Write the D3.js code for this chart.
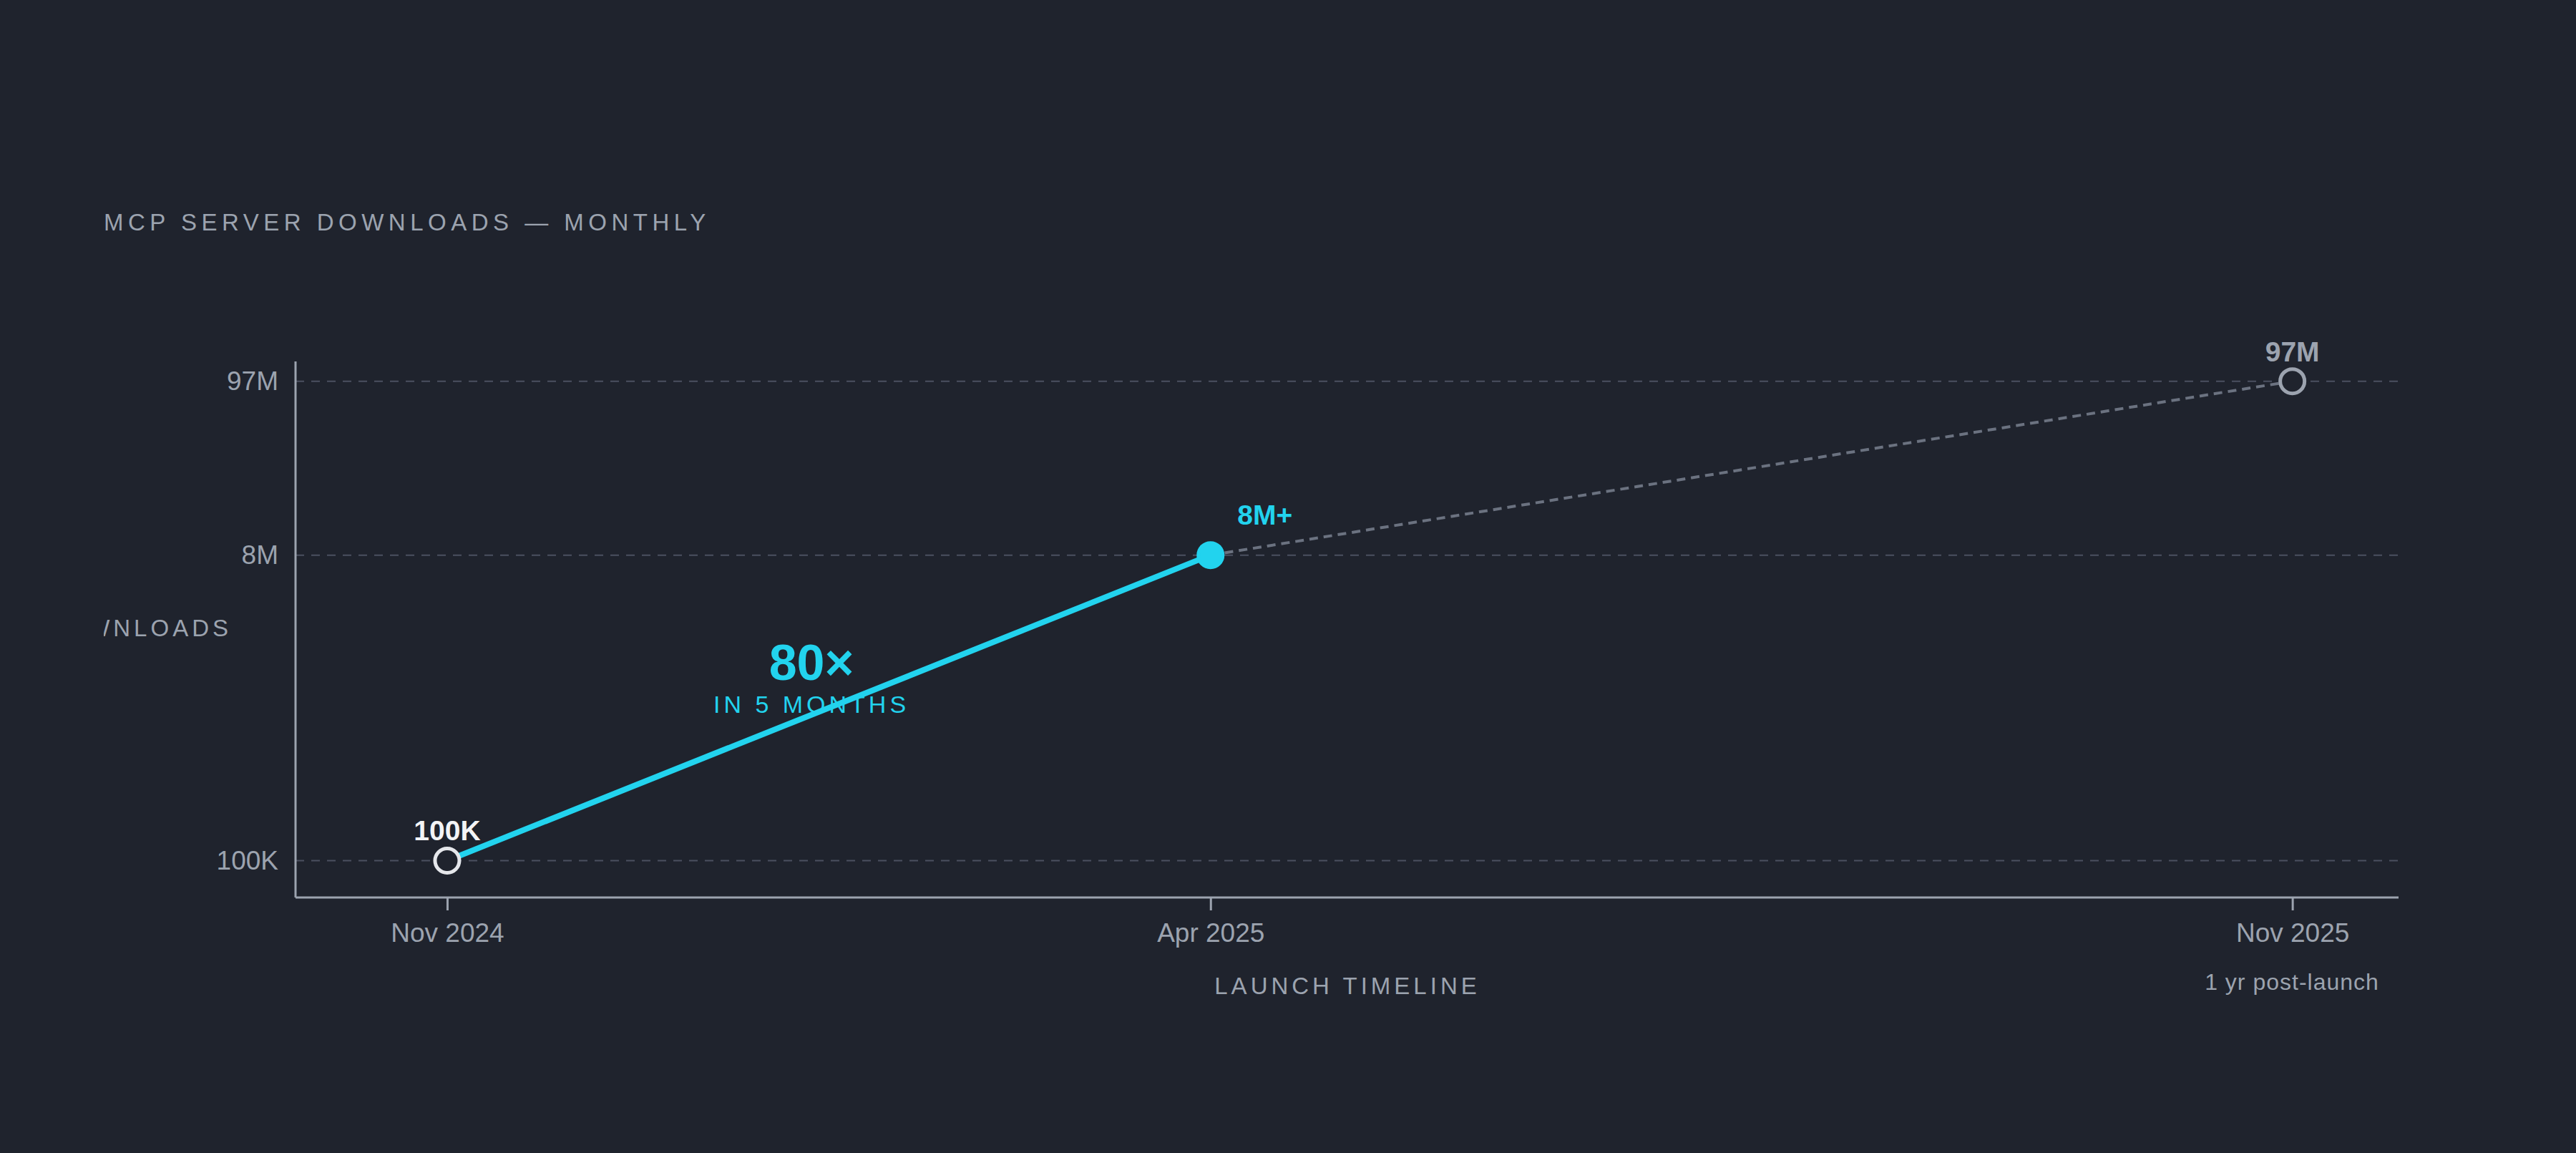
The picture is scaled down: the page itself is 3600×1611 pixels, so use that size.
<!DOCTYPE html>
<html><head><meta charset="utf-8">
<script src="https://cdn.jsdelivr.net/npm/d3@7"></script>
<style>html,body{margin:0;background:#1f232d;}svg{display:block;}</style>
</head><body>
<svg id="c" width="3600" height="1611"></svg>
<script>
const dates = ["2024-11-01","2025-04-01","2025-11-01"];
const values = [100000, 8000000, 97000000];
const pointLabels = ["100K","8M+","97M"];
const tickLabels = ["Nov 2024","Apr 2025","Nov 2025"];
const yTicks = [100000, 8000000, 97000000];
const yTickLabels = ["100K","8M","97M"];

const F = "'Liberation Sans Narrow','Liberation Sans',Arial,sans-serif";
const svg = d3.select("#c");
svg.append("rect").attr("width",3600).attr("height",1611).attr("fill","#1f232d");
const parse = d3.timeParse("%Y-%m-%d");
const D = dates.map(parse);
const x = d3.scaleTime().domain([parse("2024-10-02"), parse("2025-11-22")]).range([413,3352]);
const y = d3.scaleLog().domain([10**4.77, 10**8.11]).range([1254,505]);

svg.append("text").attr("x",145).attr("y",322).text("MCP SERVER DOWNLOADS — MONTHLY")
  .attr("fill","#9ca3af").attr("font-family",F).attr("font-size",33).attr("letter-spacing",6.5);

// grid
svg.selectAll(".g").data(yTicks).join("line").attr("x1",413).attr("x2",3352)
  .attr("y1",d=>y(d)).attr("y2",d=>y(d)).attr("stroke","#4b5060").attr("stroke-width",2).attr("stroke-dasharray","12,10");

// axes
const ya = svg.append("g").attr("transform","translate(413,0)")
  .call(d3.axisLeft(y).tickValues(yTicks).tickFormat((d,i)=>yTickLabels[i]).tickSize(0).tickPadding(24));
const xa = svg.append("g").attr("transform","translate(0,1254)")
  .call(d3.axisBottom(x).tickValues(D).tickFormat((d,i)=>tickLabels[i]).tickSize(18).tickPadding(18));
[ya,xa].forEach(a=>{a.select(".domain").attr("stroke","#9ca3af").attr("stroke-width",3);
  a.selectAll(".tick line").attr("stroke","#9ca3af").attr("stroke-width",3);
  a.selectAll("text").attr("fill","#9ca3af").attr("font-family",F).attr("font-size",37);});
ya.select(".domain").attr("d","M0,505V1254");
xa.select(".domain").attr("d","M413,0H3352");

// axis labels
svg.append("clipPath").attr("id","cl").append("rect").attr("x",145).attr("y",0).attr("width",3455).attr("height",1611);
svg.append("text").attr("clip-path","url(#cl)").attr("x",324).attr("y",889).attr("text-anchor","end")
  .text("DOWNLOADS").attr("fill","#9ca3af").attr("font-family",F).attr("font-size",33).attr("letter-spacing",5);
svg.append("text").attr("x",1883).attr("y",1389).attr("text-anchor","middle").text("LAUNCH TIMELINE")
  .attr("fill","#9ca3af").attr("font-family",F).attr("font-size",33).attr("letter-spacing",5);
svg.append("text").attr("x",3203).attr("y",1383).attr("text-anchor","middle").text("1 yr post-launch")
  .attr("fill","#9ca3af").attr("font-family",F).attr("font-size",32).attr("letter-spacing",1);

// lines
const line = d3.line().x(d=>x(d[0])).y(d=>y(d[1]));
const pts = D.map((d,i)=>[d,values[i]]);
svg.append("path").attr("d",line(pts.slice(1))).attr("fill","none").attr("stroke","#6b7280").attr("stroke-width",4).attr("stroke-dasharray","12,8");
svg.append("path").attr("d",line(pts.slice(0,2))).attr("fill","none").attr("stroke","#22d3ee").attr("stroke-width",8);

// points
const pc = [{f:"#1f232d",s:"#e5e7eb"},{f:"#22d3ee",s:"#22d3ee"},{f:"#1f232d",s:"#9ca3af"}];
svg.selectAll(".p").data(pts).join("circle").attr("cx",d=>x(d[0])).attr("cy",d=>y(d[1])).attr("r",17)
  .attr("fill",(d,i)=>pc[i].f).attr("stroke",(d,i)=>pc[i].s).attr("stroke-width",5);
const lc = ["#f3f4f6","#22d3ee","#9ca3af"];
const ldx = [0,76,0], ldy=[-28,-43,-28], anch=["middle","middle","middle"];
svg.selectAll(".l").data(pts).join("text").attr("x",(d,i)=>x(d[0])+ldx[i]).attr("y",(d,i)=>y(d[1])+ldy[i])
  .attr("text-anchor","middle").text((d,i)=>pointLabels[i]).attr("fill",(d,i)=>lc[i])
  .attr("font-family",F).attr("font-weight","bold").attr("font-size",39);

svg.append("text").attr("x",1134).attr("y",950).attr("text-anchor","middle").text("80×")
  .attr("fill","#22d3ee").attr("font-family",F).attr("font-weight","bold").attr("font-size",70);
svg.append("text").attr("x",1134).attr("y",996).attr("text-anchor","middle").text("IN 5 MONTHS")
  .attr("fill","#22d3ee").attr("font-family",F).attr("font-size",34).attr("letter-spacing",5);
</script></body></html>
